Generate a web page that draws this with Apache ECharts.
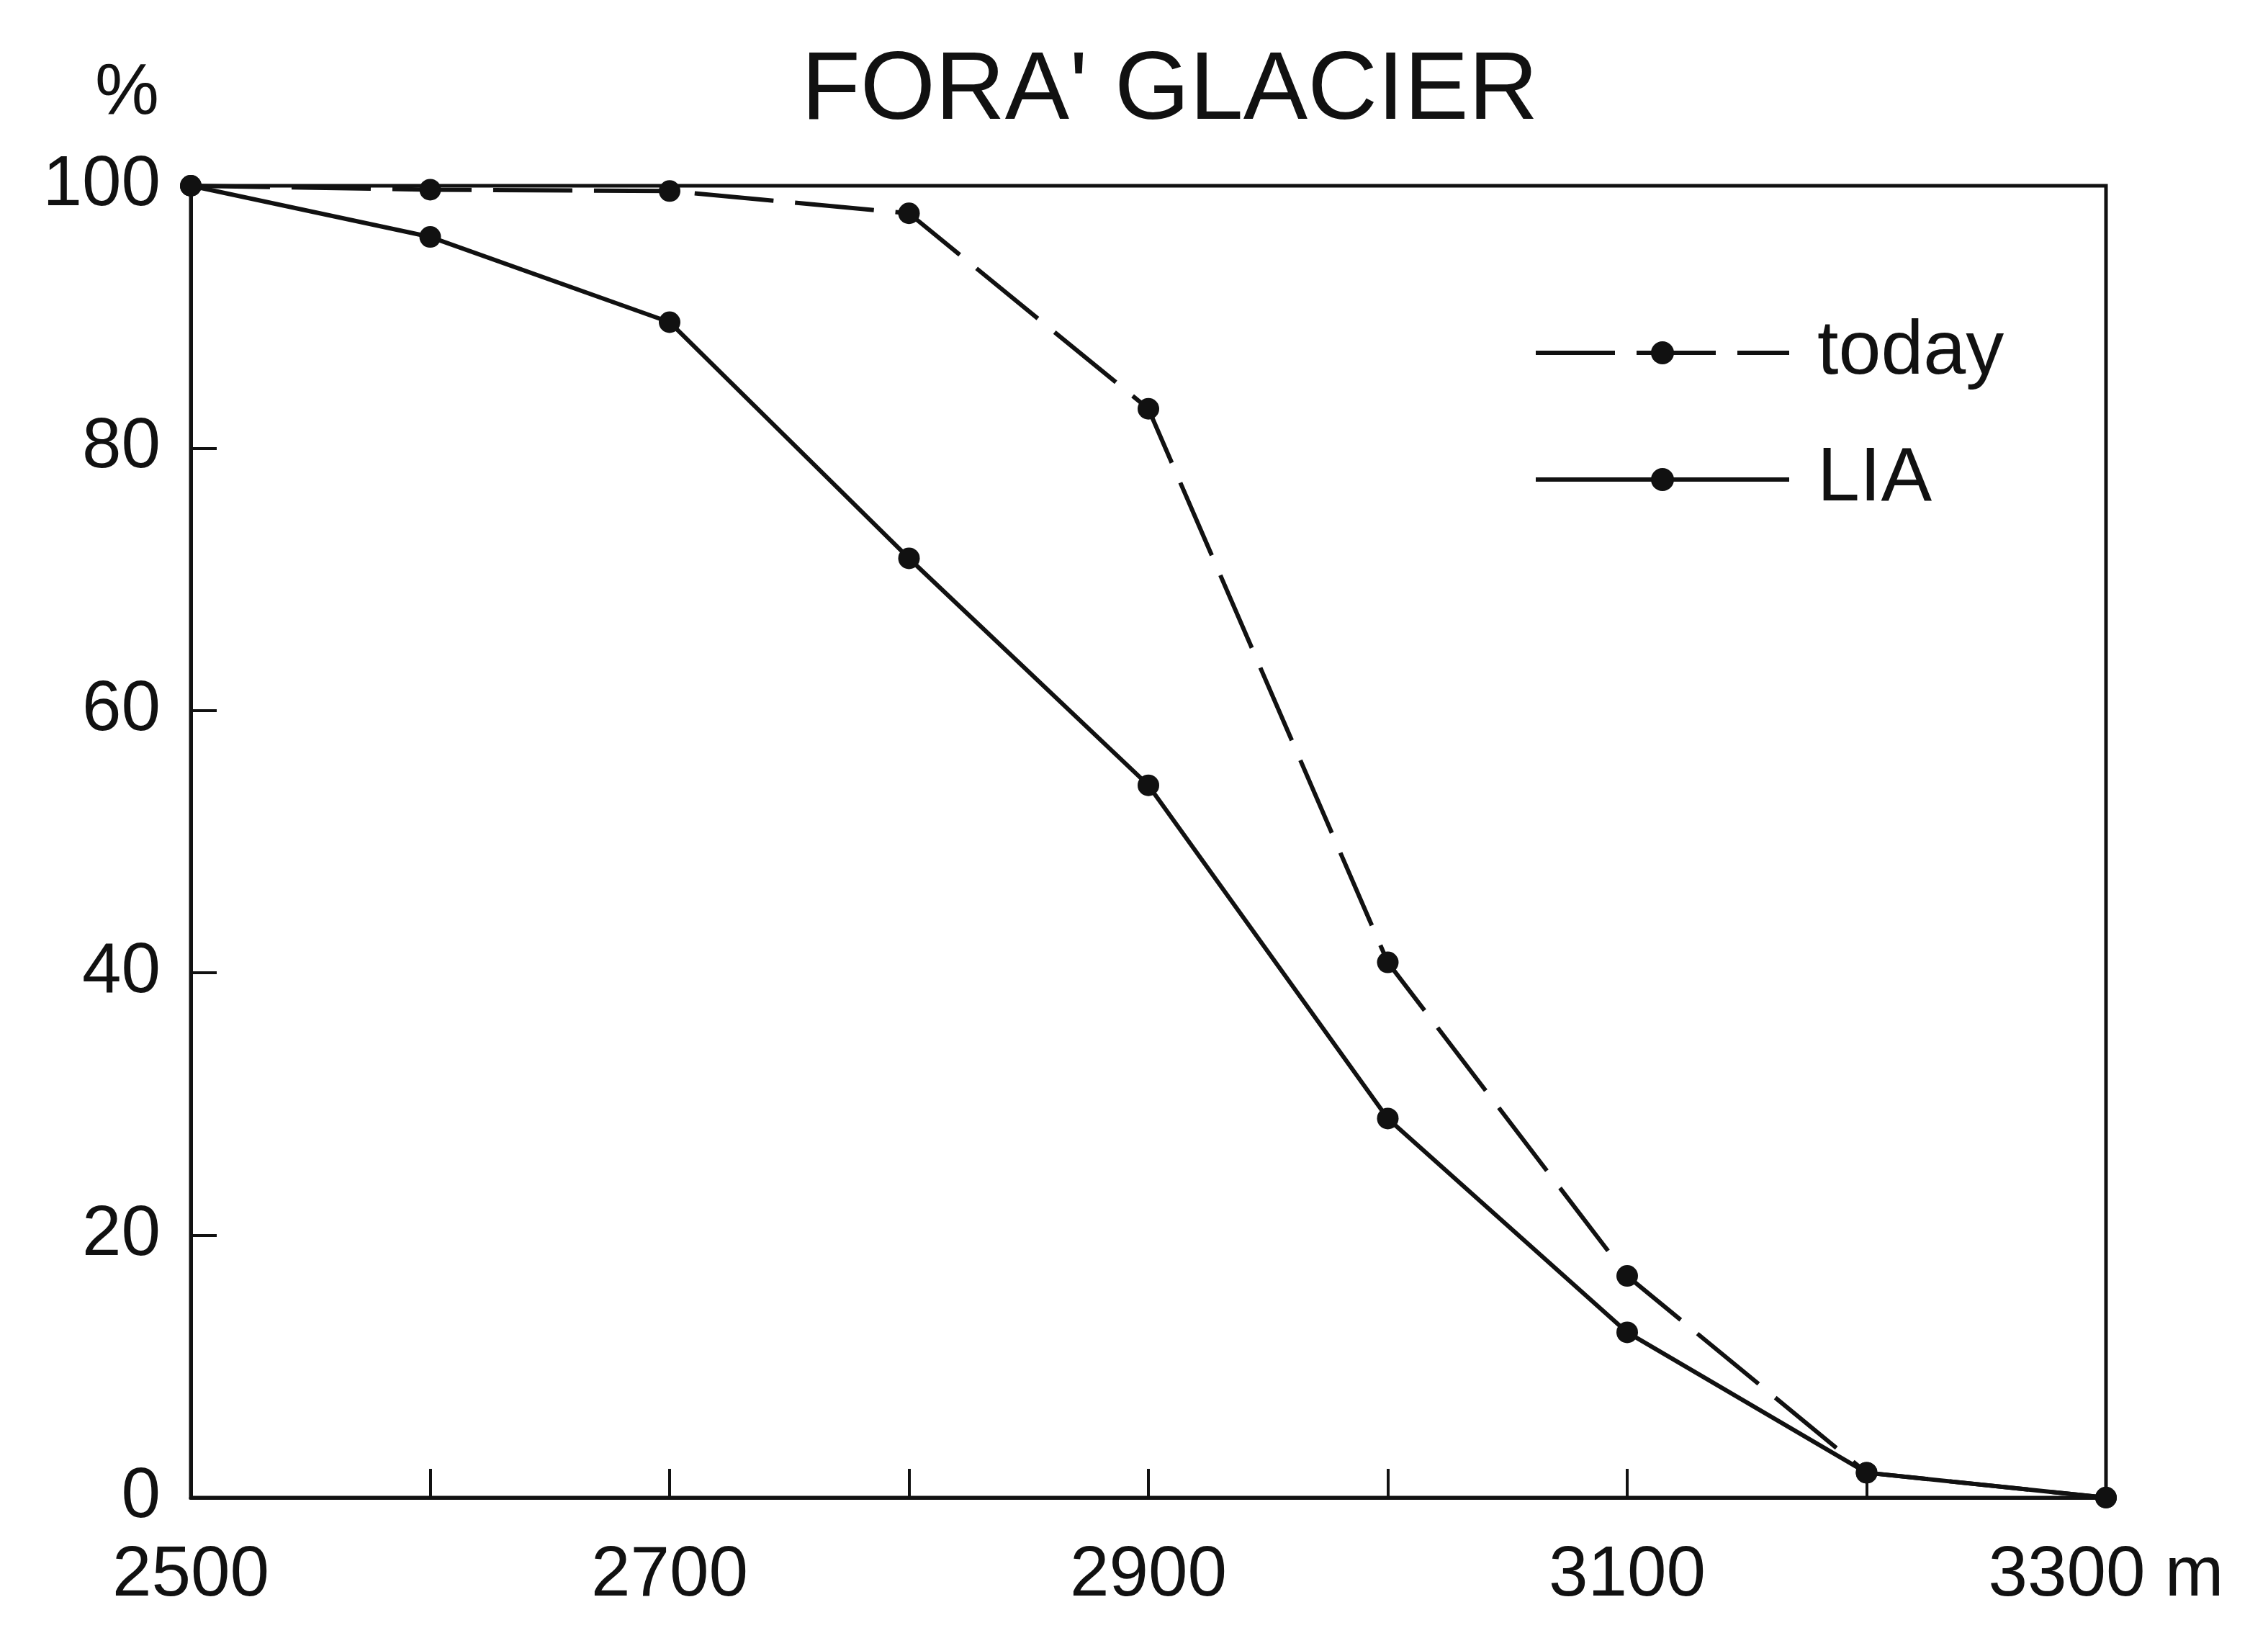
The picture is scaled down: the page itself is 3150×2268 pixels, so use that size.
<!DOCTYPE html>
<html>
<head>
<meta charset="utf-8">
<script src="https://cdn.jsdelivr.net/npm/echarts@6/dist/echarts.min.js"></script>
<style>
	html, body { margin: 0; padding: 0; background: #fff; }
	#chart { width: 3150px; height: 2268px; }
</style>
</head>
<body>
<div id="chart"></div>
<script>
// elevation (m) and share of glacier area below it (%)
var elevations = [2500, 2600, 2700, 2800, 2900, 3000, 3100, 3200, 3300];
var todayPct = [100, 99.7, 99.6, 97.9, 83.0, 40.8, 16.9, 1.9, 0];
var liaPct = [100, 96.1, 89.6, 71.6, 54.3, 28.9, 12.6, 1.9, 0];
var xLabelTicks = [2500, 2700, 2900, 3100, 3300];

var ink = '#111';
var font = 'Liberation Sans, Arial, sans-serif';

function pairs(ys){
	return elevations.map(function(x, i){ return [x, ys[i]]; });
}

var chart = echarts.init(document.getElementById('chart'));

chart.setOption({
	animation: false,
	backgroundColor: '#fff',
	title: {
		text: "FORA' GLACIER",
		left: 1108,
		top: 56,
		textStyle: { fontFamily: font, fontSize: 134, fontWeight: 'normal', color: ink }
	},
	legend: {
		orient: 'vertical',
		left: 2125,
		top: 432,
		itemWidth: 352,
		itemHeight: 40,
		itemGap: 70,
		selectedMode: false,
		lineStyle: { width: 6 },
		textStyle: { fontFamily: font, fontSize: 106, color: ink, lineHeight: 104, padding: [0, 0, 0, 34] },
		data: ['today', 'LIA']
	},
	grid: {
		left: 265,
		right: 225,
		top: 258,
		bottom: 188,
		show: true,
		borderColor: ink,
		borderWidth: 5
	},
	xAxis: {
		type: 'value',
		min: 2500,
		max: 3300,
		interval: 100,
		splitLine: { show: false },
		axisLine: { lineStyle: { color: ink, width: 5 } },
		axisTick: { inside: true, length: 40, lineStyle: { color: ink, width: 4 } },
		axisLabel: {
			margin: 60,
			fontFamily: font,
			fontSize: 98,
			color: ink,
			formatter: function(v){
				if(xLabelTicks.indexOf(v) < 0) return '';
				return v === 3300 ? '3300 m' : String(v);
			}
		}
	},
	yAxis: {
		type: 'value',
		min: 0,
		max: 100,
		interval: 20,
		name: '%',
		nameLocation: 'end',
		nameGap: 78,
		nameTextStyle: { fontFamily: font, fontSize: 100, color: ink, align: 'right', padding: [0, 44, 0, 0] },
		splitLine: { show: false },
		axisLine: { lineStyle: { color: ink, width: 5 } },
		axisTick: { inside: true, length: 36, lineStyle: { color: ink, width: 4 } },
		axisLabel: { margin: 42, fontFamily: font, fontSize: 98, color: ink }
	},
	series: [{
		name: 'today',
		type: 'line',
		data: pairs(todayPct),
		symbol: 'circle',
		symbolSize: 30,
		itemStyle: { color: ink },
		lineStyle: { color: ink, width: 6, type: [110, 30] },
		z: 3
	}, {
		name: 'LIA',
		type: 'line',
		data: pairs(liaPct),
		symbol: 'circle',
		symbolSize: 30,
		itemStyle: { color: ink },
		lineStyle: { color: ink, width: 6 },
		z: 3
	}]
});
</script>
</body>
</html>
